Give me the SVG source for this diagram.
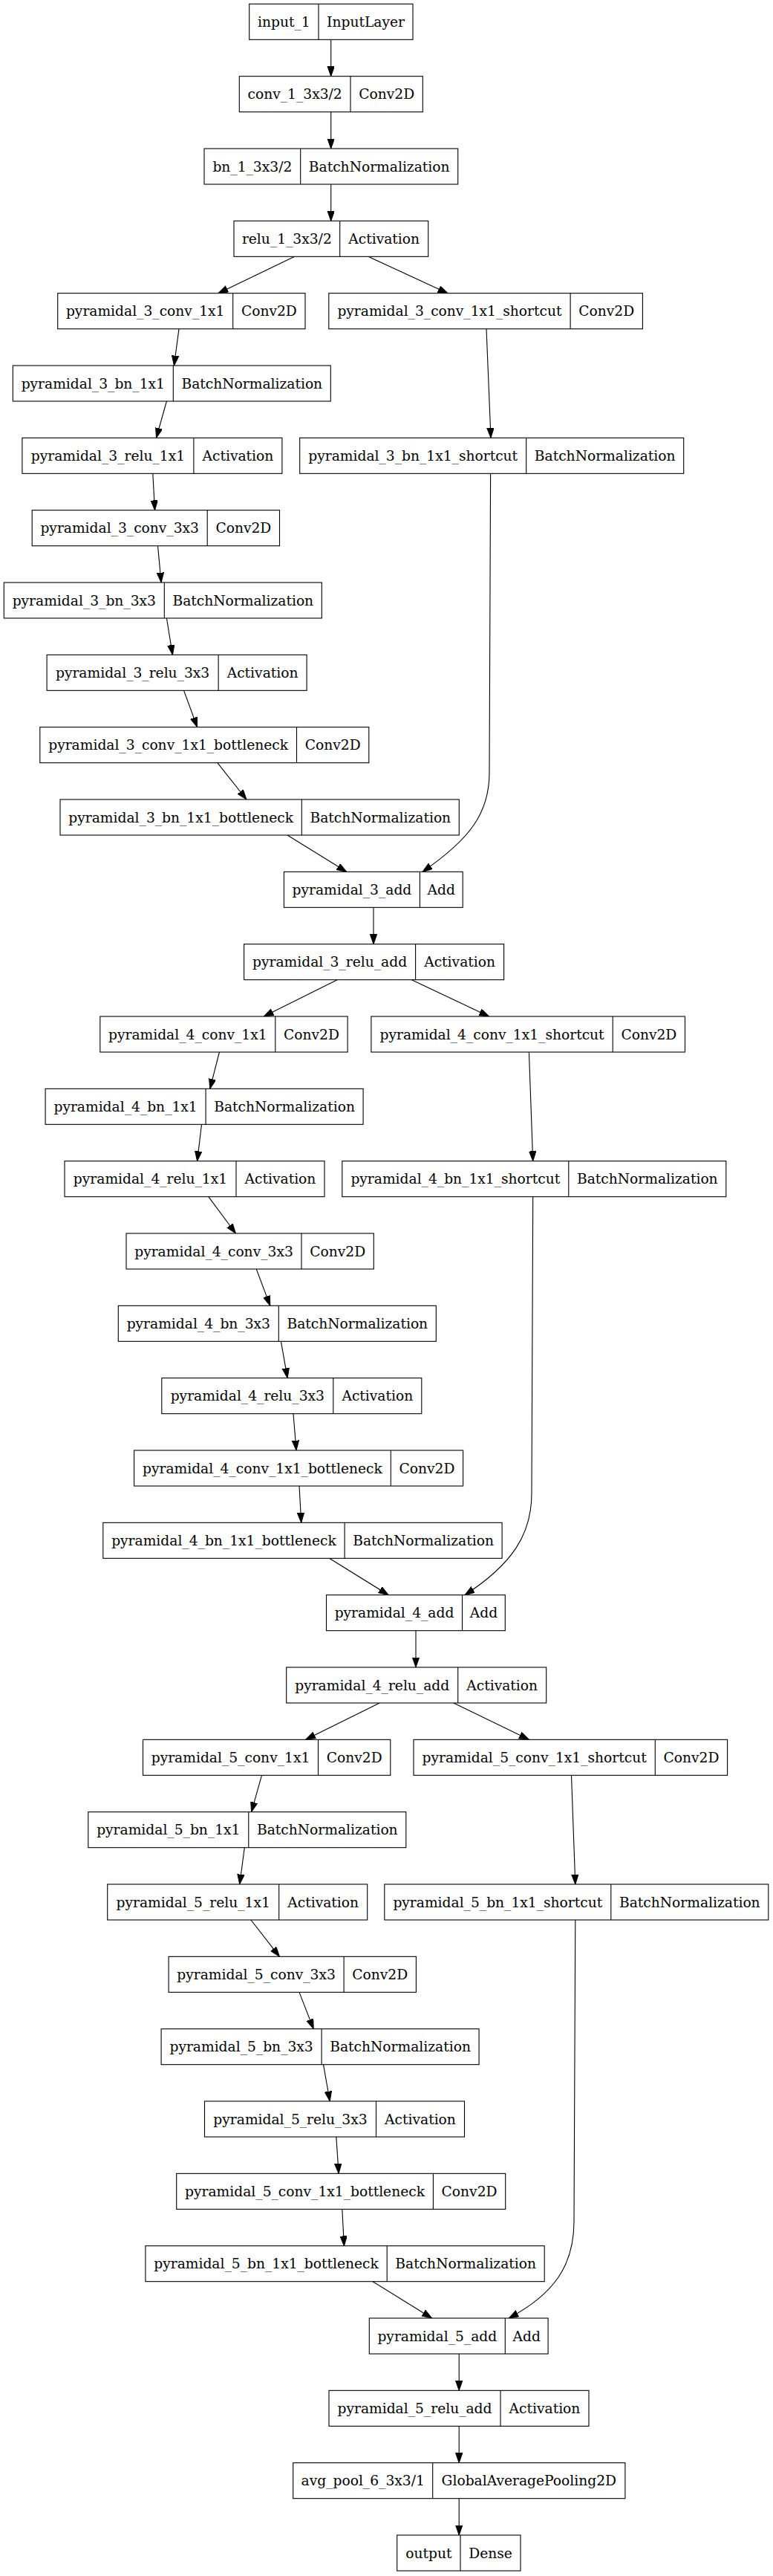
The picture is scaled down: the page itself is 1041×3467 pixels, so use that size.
<svg xmlns="http://www.w3.org/2000/svg" width="1041" height="3467" viewBox="0 0 1041 3467">
<style>
.nd rect{fill:#fff;stroke:#000;stroke-width:1.1}
.nd line{stroke:#000;stroke-width:1.1}
.nd text{font-family:"DejaVu Serif","Liberation Serif",serif;font-size:18.67px;fill:#000;text-anchor:middle}
.ed path{fill:none;stroke:#000;stroke-width:1.1;marker-end:url(#ah)}
</style>
<defs>
<marker id="ah" markerUnits="userSpaceOnUse" markerWidth="15" markerHeight="11" refX="13.3" refY="4.67" orient="auto"><path d="M0,0 L13.3,4.67 L0,9.33 z" fill="#000" stroke="#000" stroke-width="1"/></marker>
</defs>
<rect width="1041" height="3467" fill="#fff"/>
<g class="ed" id="edges">
<path d="M445.7,53.33 L445.7,102.67"/>
<path d="M445.7,150.67 L445.7,200"/>
<path d="M445.7,248 L445.7,297.33"/>
<path d="M396.7,345.33 L294,394.67"/>
<path d="M496,345.33 L603,394.67"/>
<path d="M241,442.67 L234.4,492"/>
<path d="M224.4,540 L210.5,589.33"/>
<path d="M205.8,637.33 L208.5,686.67"/>
<path d="M212.5,734.67 L217.1,784"/>
<path d="M224.4,832 L232.4,881.33"/>
<path d="M247.6,929.33 L265.6,978.67"/>
<path d="M292.8,1026.67 L332,1076"/>
<path d="M387,1124 L466.7,1173.33"/>
<path d="M655,442.67 L661,589.33"/>
<path d="M660.6,637.33 C660,850 659,960 659,1040 C659,1095 632,1130 569,1173.33"/>
<path d="M503,1221.33 L503,1270.67"/>
<path d="M454.1,1318.67 L355.2,1368"/>
<path d="M554.4,1318.67 L658.6,1368"/>
<path d="M295.4,1416 L282.8,1465.33"/>
<path d="M271.5,1513.33 L265.6,1562.67"/>
<path d="M712.4,1416 L717.7,1562.67"/>
<path d="M280.8,1610.67 L317.4,1660"/>
<path d="M345.2,1708 L363.8,1757.33"/>
<path d="M378.4,1805.33 L387.1,1854.67"/>
<path d="M395,1902.67 L399,1952"/>
<path d="M403,2000 L405.7,2049.33"/>
<path d="M443.5,2097.33 L523.2,2146.67"/>
<path d="M717.7,1610.67 C717,1800 716,1940 716,2010 C716,2065 690,2105 626,2146.67"/>
<path d="M560,2194.67 L560,2244"/>
<path d="M511.2,2292 L411.6,2341.33"/>
<path d="M610.8,2292 L712.4,2341.33"/>
<path d="M352.5,2389.33 L338.6,2438.67"/>
<path d="M329.3,2486.67 L322.7,2536"/>
<path d="M769.5,2389.33 L774.8,2536"/>
<path d="M337.9,2584 L376.4,2633.33"/>
<path d="M403,2681.33 L422.2,2730.67"/>
<path d="M435.5,2778.67 L444.2,2828"/>
<path d="M452.8,2876 L456.1,2925.33"/>
<path d="M460.8,2973.33 L463.4,3022.67"/>
<path d="M501.9,3070.67 L581.6,3120"/>
<path d="M774.8,2584 C774,2800 773,2930 773,2990 C773,3050 745,3088 685.2,3120"/>
<path d="M618.2,3168 L618.2,3217.33"/>
<path d="M618.2,3265.33 L618.2,3314.67"/>
<path d="M618.2,3362.67 L618.2,3412"/>
</g>
<g class="nd" id="input_1"><rect x="335.7" y="5.33" width="220.3" height="48"/><line x1="429" y1="5.33" x2="429" y2="53.33"/><text x="382.35" y="35.83">input_1</text><text x="492.5" y="35.83">InputLayer</text></g>
<g class="nd" id="conv_1_3x3_2"><rect x="322.3" y="102.67" width="247" height="48"/><line x1="472" y1="102.67" x2="472" y2="150.67"/><text x="397.15" y="133.17">conv_1_3x3/2</text><text x="520.65" y="133.17">Conv2D</text></g>
<g class="nd" id="bn_1_3x3_2"><rect x="275" y="200" width="341.7" height="48"/><line x1="404.7" y1="200" x2="404.7" y2="248"/><text x="339.85" y="230.5">bn_1_3x3/2</text><text x="510.7" y="230.5">BatchNormalization</text></g>
<g class="nd" id="relu_1_3x3_2"><rect x="315" y="297.33" width="261.7" height="48"/><line x1="457.7" y1="297.33" x2="457.7" y2="345.33"/><text x="386.35" y="327.83">relu_1_3x3/2</text><text x="517.2" y="327.83">Activation</text></g>
<g class="nd" id="pyramidal_3_conv_1x1"><rect x="77.7" y="394.67" width="333.3" height="48"/><line x1="313.7" y1="394.67" x2="313.7" y2="442.67"/><text x="195.7" y="425.17">pyramidal_3_conv_1x1</text><text x="362.35" y="425.17">Conv2D</text></g>
<g class="nd" id="pyramidal_3_conv_1x1_shortcut"><rect x="442.8" y="394.67" width="422.6" height="48"/><line x1="768.1" y1="394.67" x2="768.1" y2="442.67"/><text x="605.45" y="425.17">pyramidal_3_conv_1x1_shortcut</text><text x="816.75" y="425.17">Conv2D</text></g>
<g class="nd" id="pyramidal_3_bn_1x1"><rect x="17.3" y="492" width="428" height="48"/><line x1="233.3" y1="492" x2="233.3" y2="540"/><text x="125.3" y="522.5">pyramidal_3_bn_1x1</text><text x="339.3" y="522.5">BatchNormalization</text></g>
<g class="nd" id="pyramidal_3_relu_1x1"><rect x="29.9" y="589.33" width="350" height="48"/><line x1="260.9" y1="589.33" x2="260.9" y2="637.33"/><text x="145.4" y="619.83">pyramidal_3_relu_1x1</text><text x="320.4" y="619.83">Activation</text></g>
<g class="nd" id="pyramidal_3_bn_1x1_shortcut"><rect x="403.7" y="589.33" width="517" height="48"/><line x1="708.7" y1="589.33" x2="708.7" y2="637.33"/><text x="556.2" y="619.83">pyramidal_3_bn_1x1_shortcut</text><text x="814.7" y="619.83">BatchNormalization</text></g>
<g class="nd" id="pyramidal_3_conv_3x3"><rect x="43.2" y="686.67" width="333.3" height="48"/><line x1="279.2" y1="686.67" x2="279.2" y2="734.67"/><text x="161.2" y="717.17">pyramidal_3_conv_3x3</text><text x="327.85" y="717.17">Conv2D</text></g>
<g class="nd" id="pyramidal_3_bn_3x3"><rect x="5.3" y="784" width="428" height="48"/><line x1="221.3" y1="784" x2="221.3" y2="832"/><text x="113.3" y="814.5">pyramidal_3_bn_3x3</text><text x="327.3" y="814.5">BatchNormalization</text></g>
<g class="nd" id="pyramidal_3_relu_3x3"><rect x="63.1" y="881.33" width="350" height="48"/><line x1="294.1" y1="881.33" x2="294.1" y2="929.33"/><text x="178.6" y="911.83">pyramidal_3_relu_3x3</text><text x="353.6" y="911.83">Activation</text></g>
<g class="nd" id="pyramidal_3_conv_1x1_bottleneck"><rect x="53.8" y="978.67" width="443" height="48"/><line x1="399.5" y1="978.67" x2="399.5" y2="1026.67"/><text x="226.65" y="1009.17">pyramidal_3_conv_1x1_bottleneck</text><text x="448.15" y="1009.17">Conv2D</text></g>
<g class="nd" id="pyramidal_3_bn_1x1_bottleneck"><rect x="81" y="1076" width="537.3" height="48"/><line x1="406.3" y1="1076" x2="406.3" y2="1124"/><text x="243.65" y="1106.5">pyramidal_3_bn_1x1_bottleneck</text><text x="512.3" y="1106.5">BatchNormalization</text></g>
<g class="nd" id="pyramidal_3_add"><rect x="382.4" y="1173.33" width="240.8" height="48"/><line x1="565.4" y1="1173.33" x2="565.4" y2="1221.33"/><text x="473.9" y="1203.83">pyramidal_3_add</text><text x="594.3" y="1203.83">Add</text></g>
<g class="nd" id="pyramidal_3_relu_add"><rect x="328.6" y="1270.67" width="350" height="48"/><line x1="559.6" y1="1270.67" x2="559.6" y2="1318.67"/><text x="444.1" y="1301.17">pyramidal_3_relu_add</text><text x="619.1" y="1301.17">Activation</text></g>
<g class="nd" id="pyramidal_4_conv_1x1"><rect x="134.8" y="1368" width="333.3" height="48"/><line x1="370.8" y1="1368" x2="370.8" y2="1416"/><text x="252.8" y="1398.5">pyramidal_4_conv_1x1</text><text x="419.45" y="1398.5">Conv2D</text></g>
<g class="nd" id="pyramidal_4_conv_1x1_shortcut"><rect x="499.9" y="1368" width="422.6" height="48"/><line x1="825.2" y1="1368" x2="825.2" y2="1416"/><text x="662.55" y="1398.5">pyramidal_4_conv_1x1_shortcut</text><text x="873.85" y="1398.5">Conv2D</text></g>
<g class="nd" id="pyramidal_4_bn_1x1"><rect x="61.1" y="1465.33" width="428" height="48"/><line x1="277.1" y1="1465.33" x2="277.1" y2="1513.33"/><text x="169.1" y="1495.83">pyramidal_4_bn_1x1</text><text x="383.1" y="1495.83">BatchNormalization</text></g>
<g class="nd" id="pyramidal_4_relu_1x1"><rect x="87" y="1562.67" width="350" height="48"/><line x1="318" y1="1562.67" x2="318" y2="1610.67"/><text x="202.5" y="1593.17">pyramidal_4_relu_1x1</text><text x="377.5" y="1593.17">Activation</text></g>
<g class="nd" id="pyramidal_4_bn_1x1_shortcut"><rect x="460.8" y="1562.67" width="517" height="48"/><line x1="765.8" y1="1562.67" x2="765.8" y2="1610.67"/><text x="613.3" y="1593.17">pyramidal_4_bn_1x1_shortcut</text><text x="871.8" y="1593.17">BatchNormalization</text></g>
<g class="nd" id="pyramidal_4_conv_3x3"><rect x="170" y="1660" width="333.3" height="48"/><line x1="406" y1="1660" x2="406" y2="1708"/><text x="288" y="1690.5">pyramidal_4_conv_3x3</text><text x="454.65" y="1690.5">Conv2D</text></g>
<g class="nd" id="pyramidal_4_bn_3x3"><rect x="159.3" y="1757.33" width="428" height="48"/><line x1="375.3" y1="1757.33" x2="375.3" y2="1805.33"/><text x="267.3" y="1787.83">pyramidal_4_bn_3x3</text><text x="481.3" y="1787.83">BatchNormalization</text></g>
<g class="nd" id="pyramidal_4_relu_3x3"><rect x="217.8" y="1854.67" width="350" height="48"/><line x1="448.8" y1="1854.67" x2="448.8" y2="1902.67"/><text x="333.3" y="1885.17">pyramidal_4_relu_3x3</text><text x="508.3" y="1885.17">Activation</text></g>
<g class="nd" id="pyramidal_4_conv_1x1_bottleneck"><rect x="180.6" y="1952" width="443" height="48"/><line x1="526.3" y1="1952" x2="526.3" y2="2000"/><text x="353.45" y="1982.5">pyramidal_4_conv_1x1_bottleneck</text><text x="574.95" y="1982.5">Conv2D</text></g>
<g class="nd" id="pyramidal_4_bn_1x1_bottleneck"><rect x="138.8" y="2049.33" width="537.3" height="48"/><line x1="464.1" y1="2049.33" x2="464.1" y2="2097.33"/><text x="301.45" y="2079.83">pyramidal_4_bn_1x1_bottleneck</text><text x="570.1" y="2079.83">BatchNormalization</text></g>
<g class="nd" id="pyramidal_4_add"><rect x="439.5" y="2146.67" width="240.8" height="48"/><line x1="622.5" y1="2146.67" x2="622.5" y2="2194.67"/><text x="531" y="2177.17">pyramidal_4_add</text><text x="651.4" y="2177.17">Add</text></g>
<g class="nd" id="pyramidal_4_relu_add"><rect x="385.7" y="2244" width="350" height="48"/><line x1="616.7" y1="2244" x2="616.7" y2="2292"/><text x="501.2" y="2274.5">pyramidal_4_relu_add</text><text x="676.2" y="2274.5">Activation</text></g>
<g class="nd" id="pyramidal_5_conv_1x1"><rect x="192.5" y="2341.33" width="333.3" height="48"/><line x1="428.5" y1="2341.33" x2="428.5" y2="2389.33"/><text x="310.5" y="2371.83">pyramidal_5_conv_1x1</text><text x="477.15" y="2371.83">Conv2D</text></g>
<g class="nd" id="pyramidal_5_conv_1x1_shortcut"><rect x="557" y="2341.33" width="422.6" height="48"/><line x1="882.3" y1="2341.33" x2="882.3" y2="2389.33"/><text x="719.65" y="2371.83">pyramidal_5_conv_1x1_shortcut</text><text x="930.95" y="2371.83">Conv2D</text></g>
<g class="nd" id="pyramidal_5_bn_1x1"><rect x="118.8" y="2438.67" width="428" height="48"/><line x1="334.8" y1="2438.67" x2="334.8" y2="2486.67"/><text x="226.8" y="2469.17">pyramidal_5_bn_1x1</text><text x="440.8" y="2469.17">BatchNormalization</text></g>
<g class="nd" id="pyramidal_5_relu_1x1"><rect x="144.7" y="2536" width="350" height="48"/><line x1="375.7" y1="2536" x2="375.7" y2="2584"/><text x="260.2" y="2566.5">pyramidal_5_relu_1x1</text><text x="435.2" y="2566.5">Activation</text></g>
<g class="nd" id="pyramidal_5_bn_1x1_shortcut"><rect x="517.8" y="2536" width="517" height="48"/><line x1="822.8" y1="2536" x2="822.8" y2="2584"/><text x="670.3" y="2566.5">pyramidal_5_bn_1x1_shortcut</text><text x="928.8" y="2566.5">BatchNormalization</text></g>
<g class="nd" id="pyramidal_5_conv_3x3"><rect x="227.1" y="2633.33" width="333.3" height="48"/><line x1="463.1" y1="2633.33" x2="463.1" y2="2681.33"/><text x="345.1" y="2663.83">pyramidal_5_conv_3x3</text><text x="511.75" y="2663.83">Conv2D</text></g>
<g class="nd" id="pyramidal_5_bn_3x3"><rect x="217.1" y="2730.67" width="428" height="48"/><line x1="433.1" y1="2730.67" x2="433.1" y2="2778.67"/><text x="325.1" y="2761.17">pyramidal_5_bn_3x3</text><text x="539.1" y="2761.17">BatchNormalization</text></g>
<g class="nd" id="pyramidal_5_relu_3x3"><rect x="275.5" y="2828" width="350" height="48"/><line x1="506.5" y1="2828" x2="506.5" y2="2876"/><text x="391" y="2858.5">pyramidal_5_relu_3x3</text><text x="566" y="2858.5">Activation</text></g>
<g class="nd" id="pyramidal_5_conv_1x1_bottleneck"><rect x="237.7" y="2925.33" width="443" height="48"/><line x1="583.4" y1="2925.33" x2="583.4" y2="2973.33"/><text x="410.55" y="2955.83">pyramidal_5_conv_1x1_bottleneck</text><text x="632.05" y="2955.83">Conv2D</text></g>
<g class="nd" id="pyramidal_5_bn_1x1_bottleneck"><rect x="195.9" y="3022.67" width="537.3" height="48"/><line x1="521.2" y1="3022.67" x2="521.2" y2="3070.67"/><text x="358.55" y="3053.17">pyramidal_5_bn_1x1_bottleneck</text><text x="627.2" y="3053.17">BatchNormalization</text></g>
<g class="nd" id="pyramidal_5_add"><rect x="497.3" y="3120" width="240.8" height="48"/><line x1="680.3" y1="3120" x2="680.3" y2="3168"/><text x="588.8" y="3150.5">pyramidal_5_add</text><text x="709.2" y="3150.5">Add</text></g>
<g class="nd" id="pyramidal_5_relu_add"><rect x="443" y="3217.33" width="350" height="48"/><line x1="674" y1="3217.33" x2="674" y2="3265.33"/><text x="558.5" y="3247.83">pyramidal_5_relu_add</text><text x="733.5" y="3247.83">Activation</text></g>
<g class="nd" id="avg_pool_6_3x3_1"><rect x="394.7" y="3314.67" width="447.2" height="48"/><line x1="582.7" y1="3314.67" x2="582.7" y2="3362.67"/><text x="488.7" y="3345.17">avg_pool_6_3x3/1</text><text x="712.3" y="3345.17">GlobalAveragePooling2D</text></g>
<g class="nd" id="output"><rect x="534.7" y="3412" width="166.3" height="48"/><line x1="620" y1="3412" x2="620" y2="3460"/><text x="577.35" y="3442.5">output</text><text x="660.5" y="3442.5">Dense</text></g>
</svg>
